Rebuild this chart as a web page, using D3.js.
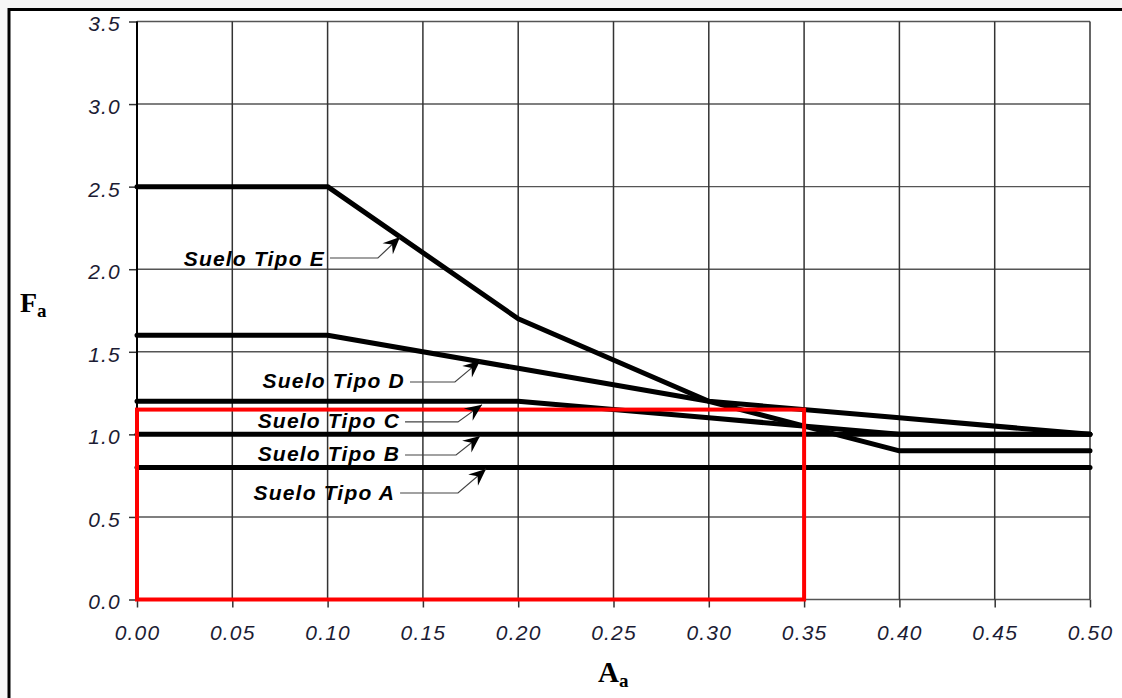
<!DOCTYPE html>
<html>
<head>
<meta charset="utf-8">
<title>Fa vs Aa</title>
<script src="https://cdn.jsdelivr.net/npm/d3@7"></script>
<style>
  * { margin: 0; padding: 0; }
  body { background: #f6f6f6; width: 1122px; height: 698px; overflow: hidden; }
  .tick-lbl { font-family: Arial, "Liberation Sans", sans-serif; font-style: italic; font-size: 21px; letter-spacing: 1.2px; fill: #1c1c34; }
  .soil-lbl { font-family: Arial, "Liberation Sans", sans-serif; font-style: italic; font-weight: bold; font-size: 21px; letter-spacing: 1.2px; fill: #000; }
  .ax-title { font-family: "Liberation Serif", "Times New Roman", serif; font-weight: bold; fill: #000; }
</style>
</head>
<body>
<div id="chart"></div>
<script>
// Aa values (x axis) and Fa per soil type
var aa = [0.0, 0.1, 0.2, 0.3, 0.4, 0.5];
var sueloA = [0.8, 0.8, 0.8, 0.8, 0.8, 0.8];
var sueloB = [1.0, 1.0, 1.0, 1.0, 1.0, 1.0];
var sueloC = [1.2, 1.2, 1.2, 1.1, 1.0, 1.0];
var sueloD = [1.6, 1.6, 1.4, 1.2, 1.1, 1.0];
var sueloE = [2.5, 2.5, 1.7, 1.2, 0.9, 0.9];

var xTicks = [0, 0.05, 0.10, 0.15, 0.20, 0.25, 0.30, 0.35, 0.40, 0.45, 0.50];
var yTicks = [0, 0.5, 1.0, 1.5, 2.0, 2.5, 3.0, 3.5];

// red highlight box (Aa <= 0.35, Fa <= 1.15)
var boxX = [0, 0.35];
var boxY = [0, 1.15];

// labels: text end (x,y), leader elbow x, arrow tip (x,y), in data units
var labNames = ["Suelo Tipo E", "Suelo Tipo D", "Suelo Tipo C", "Suelo Tipo B", "Suelo Tipo A"];
var labX     = [0.0986, 0.1406, 0.138, 0.138, 0.1354];
var labY     = [2.068, 1.329, 1.087, 0.887, 0.651];
var leadY    = [2.068, 1.317, 1.075, 0.875, 0.645];
var elbowX   = [0.1264, 0.1668, 0.1684, 0.1674, 0.1684];
var tipX     = [0.138, 0.18, 0.181, 0.18, 0.1831];
var tipY     = [2.195, 1.445, 1.18, 0.99, 0.79];

var W = 1122, H = 698;
var m = {left: 137, top: 21.5, right: 1090, bottom: 599.5};

var svg = d3.select("#chart").append("svg")
    .attr("width", W).attr("height", H);

// frame
svg.append("rect").attr("x", 9).attr("y", 9.5)
   .attr("width", W + 20).attr("height", H + 20)
   .attr("fill", "#fff").attr("stroke", "#000").attr("stroke-width", 3);

var x = d3.scaleLinear().domain([0, 0.5]).range([m.left, m.right]);
var y = d3.scaleLinear().domain([0, 3.5]).range([m.bottom, m.top]);

var defs = svg.append("defs");
defs.append("marker").attr("id", "arr")
    .attr("viewBox", "-18 -9 20 18")
    .attr("markerUnits", "userSpaceOnUse")
    .attr("markerWidth", 20).attr("markerHeight", 18)
    .attr("refX", 0).attr("refY", 0)
    .attr("orient", "auto")
  .append("path")
    .attr("d", "M0,0 L-17,-7.5 L-11,0 L-17,7.5 Z")
    .attr("fill", "#000");

// grid
var g = svg.append("g");
g.selectAll(".hg").data(yTicks).enter().append("line")
  .attr("x1", x(0)).attr("x2", x(0.5))
  .attr("y1", function(d){ return y(d); }).attr("y2", function(d){ return y(d); })
  .attr("stroke", "#555").attr("stroke-width", 1.4);
g.selectAll(".vg").data(xTicks).enter().append("line")
  .attr("x1", function(d){ return x(d); }).attr("x2", function(d){ return x(d); })
  .attr("y1", y(0)).attr("y2", y(3.5))
  .attr("stroke", "#333").attr("stroke-width", 1.5);

// axes with outward ticks
var xAxis = d3.axisBottom(x).tickValues(xTicks).tickSize(8).tickFormat(d3.format(".2f"));
var yAxis = d3.axisLeft(y).tickValues(yTicks).tickSize(8).tickFormat(d3.format(".1f"));

var gx = svg.append("g").attr("transform", "translate(0," + y(0) + ")").call(xAxis);
gx.select(".domain").remove();
gx.selectAll(".tick line").attr("stroke", "#333").attr("stroke-width", 1.5);
gx.selectAll(".tick text").attr("class", "tick-lbl").attr("y", 26).attr("dy", "0.71em")
  .attr("fill", null).attr("text-anchor", "middle");
gx.attr("font-size", null).attr("font-family", null);

var gy = svg.append("g").attr("transform", "translate(" + x(0) + ",0)").call(yAxis);
gy.select(".domain").remove();
gy.selectAll(".tick line").attr("stroke", "#333").attr("stroke-width", 1.5);
gy.selectAll(".tick text").attr("class", "tick-lbl").attr("x", -16).attr("dy", "0.45em")
  .attr("fill", null).attr("text-anchor", "end");
gy.attr("font-size", null).attr("font-family", null);

// y axis line
svg.append("line").attr("x1", x(0)).attr("x2", x(0)).attr("y1", y(0)).attr("y2", y(3.5))
   .attr("stroke", "#000").attr("stroke-width", 2);

// curves
var series = [sueloA, sueloB, sueloC, sueloD, sueloE];
var line = d3.line().x(function(d, i){ return x(aa[i]); }).y(function(d){ return y(d); });
svg.selectAll(".curve").data(series).enter().append("path")
   .attr("d", line).attr("fill", "none")
   .attr("stroke", "#000").attr("stroke-width", 5)
   .attr("stroke-linejoin", "round").attr("stroke-linecap", "round");

// red box
svg.append("rect")
   .attr("x", x(boxX[0])).attr("y", y(boxY[1]))
   .attr("width", x(boxX[1]) - x(boxX[0])).attr("height", y(boxY[0]) - y(boxY[1]))
   .attr("fill", "none").attr("stroke", "#ff0000").attr("stroke-width", 4);

// labels + leaders
labNames.forEach(function(name, i){
  svg.append("text").attr("class", "soil-lbl")
     .attr("x", x(labX[i])).attr("y", y(labY[i])).attr("dy", "0.36em")
     .attr("text-anchor", "end").text(name);
  svg.append("path")
     .attr("d", "M" + (x(labX[i]) + 5) + "," + y(leadY[i]) +
                "L" + x(elbowX[i]) + "," + y(leadY[i]) +
                "L" + x(tipX[i]) + "," + y(tipY[i]))
     .attr("fill", "none").attr("stroke", "#444").attr("stroke-width", 1.2)
     .attr("marker-end", "url(#arr)");
});

// axis titles
var fa = svg.append("text").attr("class", "ax-title").attr("x", 20).attr("y", 312).attr("font-size", 28);
fa.append("tspan").text("F");
fa.append("tspan").attr("font-size", 19).attr("dy", 5).text("a");

var aT = svg.append("text").attr("class", "ax-title").attr("x", 598).attr("y", 682).attr("font-size", 29);
aT.append("tspan").text("A");
aT.append("tspan").attr("font-size", 19).attr("dy", 5).text("a");
</script>
</body>
</html>
